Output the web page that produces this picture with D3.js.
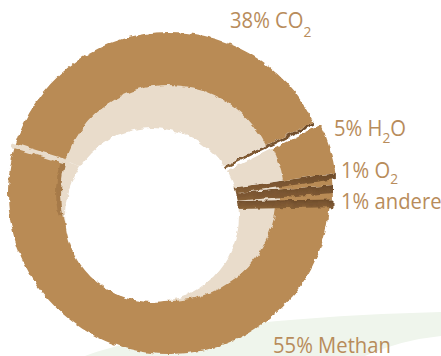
<!DOCTYPE html>
<html>
<head>
<meta charset="utf-8">
<script src="https://cdn.jsdelivr.net/npm/d3@7"></script>
<style>
  html, body { margin: 0; padding: 0; background: #ffffff; }
  svg { display: block; }
  text { font-family: "Open Sans", "Noto Sans", sans-serif; }
</style>
</head>
<body>
<div id="chart"></div>
<script>
// ---- data ----
const categories = ["CO2", "H2O", "O2", "andere", "Methan"];
const values = [38, 5, 1, 1, 55];
// label text parts: [main, subscript, tail]
const labelParts = [
  ["38% CO", "2", ""],
  ["5% H", "2", "O"],
  ["1% O", "2", ""],
  ["1% andere", "", ""],
  ["55% Methan", "", ""]
];

// ---- layout ----
const W = 441, H = 356;
const cx = 169, cy = 193;
const R = 161, rLight = 108;
const hole = { x: 152, y: 215, r: 87 };
const startDeg = -73;
// per-slice explode offsets and side-face depth (styling)
const shift = [[0, 0], [7, 3], [3, 5], [3, 9], [0, 0]];
const depth = [3, 6, 8, 8, 0];

const colBrown = "#b98b55", colLight = "#e9dccb",
      colShade = "#a67a48", colText = "#b88c5b", colGreen = "#eff5ec";

const svg = d3.select("#chart").append("svg")
  .attr("width", W).attr("height", H);

const defs = svg.append("defs");
const f = defs.append("filter").attr("id", "rough")
  .attr("x", "-10%").attr("y", "-10%").attr("width", "120%").attr("height", "120%");
f.append("feTurbulence").attr("type", "fractalNoise").attr("baseFrequency", 0.14)
  .attr("numOctaves", 2).attr("seed", 7).attr("result", "n");
f.append("feDisplacementMap").attr("in", "SourceGraphic").attr("in2", "n")
  .attr("scale", 5).attr("xChannelSelector", "R").attr("yChannelSelector", "G");

const grad = defs.append("linearGradient").attr("id", "side")
  .attr("x1", 0).attr("y1", 0).attr("x2", 0).attr("y2", 1);
grad.append("stop").attr("offset", "0%").attr("stop-color", "#6c4a2a");
grad.append("stop").attr("offset", "100%").attr("stop-color", "#8a6238");

// green swoosh background
svg.append("path")
  .attr("d", "M85,356 C150,332 280,316 441,312 L441,336 Q400,340 365,356 Z")
  .attr("fill", colGreen);

const rad = d => d * Math.PI / 180;
const pie = d3.pie().sort(null).value(d => d)
  .startAngle(rad(startDeg)).endAngle(rad(startDeg) + 2 * Math.PI);
const arcs = pie(values);

const pt = (r, a) => [r * Math.sin(a), -r * Math.cos(a)];

const g = svg.append("g").attr("filter", "url(#rough)");
const arcOuter = d3.arc().innerRadius(rLight - 1).outerRadius(R);
const arcInner = d3.arc().innerRadius(0).outerRadius(rLight);

function sideFace(a, d) {
  const p1 = pt(50, a), p2 = pt(R + 0.5, a);
  return [p1, p2, [p2[0], p2[1] + d], [p1[0], p1[1] + d]];
}

// draw from bottom slice upward: Methan, andere, O2, H2O, CO2
const order = [4, 3, 2, 1, 0];
order.forEach(i => {
  const a = arcs[i];
  const sg = g.append("g")
    .attr("transform", `translate(${cx + shift[i][0]},${cy + shift[i][1]})`);
  if (depth[i] > 0) {
    sg.append("polygon")
      .attr("points", sideFace(a.endAngle, depth[i]).join(" "))
      .attr("fill", "url(#side)");
  }
  sg.append("path").attr("d", arcOuter(a)).attr("fill", colBrown);
  if (i === 4) {
    sg.append("path")
      .attr("d", d3.arc().innerRadius(rLight - 1).outerRadius(rLight + 5)
        .startAngle(rad(258)).endAngle(a.endAngle)())
      .attr("fill", colShade);
  }
  sg.append("path").attr("d", arcInner(a)).attr("fill", colLight);
});

// light gap between Methan and CO2 on the left
{
  const a = arcs[0].startAngle;
  const p1 = pt(rLight - 3, a), p2 = pt(R + 4, a);
  g.append("line")
    .attr("x1", cx + p1[0]).attr("y1", cy + p1[1])
    .attr("x2", cx + p2[0]).attr("y2", cy + p2[1])
    .attr("stroke", colLight).attr("stroke-width", 4.5);
}

// hole
g.append("circle").attr("cx", hole.x).attr("cy", hole.y).attr("r", hole.r).attr("fill", "#fff");

// ---- labels ----
const labelPos = [[230, 28], [334, 136], [341, 178], [341, 209], [273, 353]];
const subDy = [9, 7, 6, 0, 0];
labelParts.forEach((parts, i) => {
  const t = svg.append("text")
    .attr("transform", `translate(${labelPos[i][0]},${labelPos[i][1]}) scale(0.92,1)`)
    .attr("fill", colText).attr("font-size", 22);
  t.append("tspan").text(parts[0]);
  if (parts[1]) t.append("tspan").attr("dy", subDy[i]).attr("font-size", 15).text(parts[1]);
  if (parts[2]) t.append("tspan").attr("dy", -subDy[i]).text(parts[2]);
});
</script>
</body>
</html>
